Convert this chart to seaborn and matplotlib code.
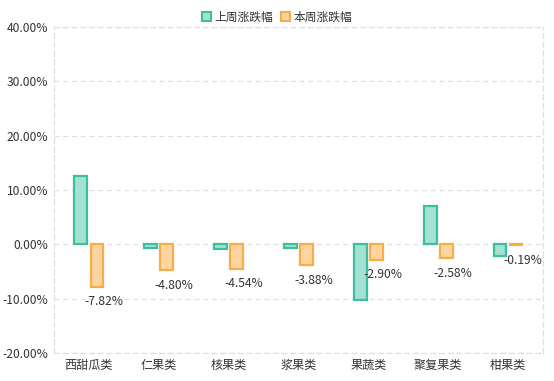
import numpy as np
import pandas as pd
import matplotlib
matplotlib.use("Agg")
import matplotlib.pyplot as plt
from matplotlib.ticker import FuncFormatter
from matplotlib.patches import Patch
import seaborn as sns

# Data
categories = ["西甜瓜类", "仁果类", "核果类", "浆果类", "果蔬类", "聚复果类", "柑果类"]
last_week = [12.6, -0.7, -0.8, -0.7, -10.3, 7.0, -2.1]
this_week = [-7.82, -4.80, -4.54, -3.88, -2.90, -2.58, -0.19]
series = ["上周涨跌幅", "本周涨跌幅"]

df = pd.DataFrame({
    "category": categories * 2,
    "series": [series[0]] * len(categories) + [series[1]] * len(categories),
    "value": last_week + this_week,
})

edge_colors = {"上周涨跌幅": "#3dbf9f", "本周涨跌幅": "#f9ad47"}
fill_colors = {"上周涨跌幅": "#a3e2d3", "本周涨跌幅": "#fed5a0"}

sns.set_style("white")
plt.rcParams["font.family"] = ["Noto Sans CJK SC", "DejaVu Sans"]

fig = plt.figure(figsize=(5.54, 3.81), dpi=100)
ax = fig.add_axes([0.0975, 0.0735, 0.8825, 0.8555])

sns.barplot(data=df, x="category", y="value", hue="series", order=categories,
            hue_order=series, palette=fill_colors, saturation=1, width=0.46, gap=0.2,
            errorbar=None, ax=ax, legend=False, zorder=3)

# colour the edges per series
n = len(categories)
for i, patch in enumerate(ax.patches[:2 * n]):
    s = series[i // n]
    patch.set_edgecolor(edge_colors[s])
    patch.set_linewidth(1.6)

# labels under the orange bars
for patch, v in zip(ax.patches[n:2 * n], this_week):
    cx = patch.get_x() + patch.get_width() / 2
    ax.annotate(f"{v:.2f}%", (cx, v), xytext=(5, -6), textcoords="offset points",
                ha="center", va="top", fontsize=8.7, color="#333333")

ax.set_ylim(-20, 40)
ax.set_yticks(np.arange(-20, 41, 10))
ax.yaxis.set_major_formatter(FuncFormatter(lambda y, _: f"{y:.2f}%"))
ax.set_xlim(-0.5, n - 0.5)
ax.set_xlabel("")
ax.set_ylabel("")
ax.grid(axis="y", linestyle=(0, (4, 3)), color="#e0e0e0", linewidth=0.9, zorder=0)
for side in ["left", "right", "top", "bottom"]:
    ax.spines[side].set_visible(True)
    ax.spines[side].set_linestyle((0, (4, 3)))
    ax.spines[side].set_color("#e0e0e0")
    ax.spines[side].set_linewidth(0.9)
ax.tick_params(axis="both", length=0, labelsize=8.7, labelcolor="#333333", pad=4)

# legend at the top
handles = [Patch(facecolor=fill_colors[s], edgecolor=edge_colors[s], linewidth=1.5, label=s)
           for s in series]
fig.legend(handles=handles, loc="upper center", bbox_to_anchor=(0.5, 1.0), ncol=2,
           frameon=False, fontsize=8.5, handlelength=0.8, handleheight=0.8,
           handletextpad=0.3, columnspacing=0.6, labelcolor="#333333")

fig.savefig("out.png", dpi=100)
